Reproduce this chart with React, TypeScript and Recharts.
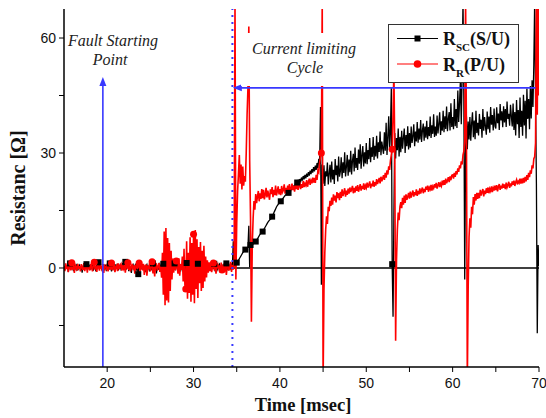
import React from "react";
import {
  LineChart,
  Line,
  XAxis,
  YAxis,
  ReferenceLine,
  ReferenceDot,
} from "recharts";

if (typeof document !== "undefined") document.body.style.margin = "0";

// sampling of the recorded traces (msec)
const tStart = 15;
const tStep = 0.1;

// R_SC (S/U), one row per msec
const rscOhm = [
  0.3, -0.5, 0.8, -0.2, 0.6, -1.0, 0.4, 1.2, -0.3, 0.5,
  0.2, -0.8, 0.9, 0.1, -0.4, 1.1, -0.6, 0.3, 0.7, -0.2,
  0.5, -1.2, 0.4, 0.8, -0.3, 0.2, 1.0, -0.5, 0.6, -0.1,
  0.9, -0.4, 0.3, 1.3, -0.7, 0.5, 0.1, -0.9, 0.7, 0.4,
  1.5, -0.3, 0.8, 0.2, -0.6, 1.0, 0.4, -0.2, 0.9, -0.8,
  0.6, 0.1, -0.5, 1.2, 0.3, -0.9, 0.7, 0.2, -0.4, 1.0,
  -0.2, 0.5, 1.1, -0.6, 0.4, 0.8, -0.3, 0.2, 1.3, -0.5,
  0.7, 1.6, -0.4, 0.3, 1.2, -0.8, 0.5, 0.1, -1.3, 0.6,
  0.9, -0.2, 0.4, 1.1, -0.7, 0.3, -1.6, 0.5, 0.8, -0.3,
  0.2, 1.0, -0.5, 0.6, -1.1, 0.4, 0.9, -0.2, 0.3, -0.9,
  0.7, 0.1, -0.6, 1.2, -0.3, 0.5, 0.8, -1.4, 0.4, 0.2,
  -0.5, 0.9, 0.3, -0.8, 0.6, 1.1, -0.2, 0.4, -0.7, 0.8,
  0.1, -0.4, 1.0, 0.5, -1.0, 0.3, 0.7, -0.3, 1.2, -0.6,
  0.4, 0.9, -0.5, 0.2, 1.1, -0.9, 0.6, 0.3, -0.2, 0.8,
  -0.7, 0.5, 1.3, -0.4, 0.2, 0.9, -1.2, 0.6, 0.1, -0.3,
  1.0, -0.6, 0.4, 0.8, -0.2, 1.1, -0.8, 0.3, 0.7, -0.4,
  0.5, 1.2, -0.3, 0.6, -1.0, 0.4, 0.9, -0.5, 0.2, 1.0,
  -0.6, 0.3, 0.8, -0.2, 1.1, -0.9, 0.5, 0.2, -0.4, 0.7,
  1.0, -0.5, 0.3, 0.9, -1.1, 0.6, 0.2, -0.3, 1.2, 0.4,
  -0.6, 0.8, 0.3, -0.2, 0.9, 0.5, 7.0, 0.8, 1.0, 1.2,
  1.4, 1.7, 2.0, 2.4, 2.8, 3.2, 3.6, 4.0, 4.3, 4.6,
  4.8, 5.0, 5.2, 5.4, 11.0, 0.2, 6.0, 6.1, 6.2, 6.3,
  6.4, 6.6, 6.9, 7.2, 7.6, 8.0, 8.4, 8.8, 9.1, 9.3,
  9.5, 9.9, 10.3, 10.7, 11.1, 11.5, 11.9, 12.2, 12.5, 12.7,
  12.9, 13.4, 13.9, 14.4, 14.9, 15.4, 15.9, 16.3, 16.6, 16.9,
  17.1, 17.4, 17.7, 18.0, 18.3, 18.6, 18.9, 19.1, 19.3, 19.5,
  19.6, 19.9, 20.2, 20.5, 20.8, 21.1, 21.4, 21.1, 22.0, 21.6,
  22.3, 22.8, 21.9, 23.2, 22.5, 23.6, 22.8, 24.0, 23.1, 24.3,
  23.4, 24.6, 23.8, 25.0, 24.1, 25.4, 24.5, 25.8, 24.9, 26.3,
  25.2, 26.7, 25.6, 27.4, 26.0, 28.5, 27.2, 42.0, -4.4, 27.0,
  22.0, 26.8, 21.4, 25.2, 23.9, 27.5, 21.8, 24.6, 26.9, 22.3,
  27.8, 23.1, 25.6, 21.9, 28.4, 24.2, 26.7, 22.6, 29.1, 23.8,
  25.2, 28.9, 23.4, 27.6, 24.8, 30.2, 23.9, 26.4, 29.5, 24.1,
  28.3, 25.0, 30.6, 24.4, 27.9, 29.8, 25.2, 31.4, 26.1, 28.7,
  25.6, 30.9, 27.2, 32.3, 25.9, 29.4, 31.8, 26.5, 30.2, 27.3,
  32.6, 27.1, 30.8, 28.4, 33.9, 27.6, 31.5, 29.0, 34.2, 28.2,
  31.9, 29.1, 34.5, 28.6, 32.8, 30.3, 35.6, 29.4, 33.0, 31.2,
  29.8, 35.4, 30.6, 37.9, 29.5, 34.2, 39.6, 30.8, 36.3, 47.0,
  1.0, -12.7, 14.0, 35.2, 28.6, 33.9, 30.7, 36.4, 29.1, 34.2,
  30.2, 35.8, 31.1, 33.9, 36.4, 30.0, 34.7, 31.8, 37.0, 30.9,
  35.2, 31.4, 36.9, 32.6, 34.3, 37.5, 31.8, 35.6, 33.0, 38.1,
  32.7, 36.4, 33.5, 38.6, 32.9, 35.8, 37.7, 33.2, 36.9, 34.0,
  38.4, 33.6, 36.8, 34.4, 39.5, 33.9, 37.2, 35.0, 40.1, 34.2,
  36.9, 34.5, 39.8, 35.1, 37.6, 40.6, 34.7, 38.3, 35.8, 41.0,
  35.4, 39.6, 36.3, 42.1, 35.7, 38.9, 40.7, 35.9, 43.0, 36.8,
  39.4, 36.2, 44.1, 37.0, 41.5, 36.5, 46.3, 38.1, 43.2, 49.0,
  37.5, 50.5, 70.0, 44.0, -3.0, 30.0, 39.5, 31.0, 38.2, 33.5,
  39.4, 33.2, 37.8, 40.6, 34.1, 38.5, 33.6, 41.0, 35.2, 37.9,
  34.6, 40.2, 36.3, 38.7, 34.0, 41.5, 35.8, 39.4, 36.9, 34.8,
  40.8, 36.2, 39.5, 35.3, 42.0, 37.4, 39.9, 35.9, 41.6, 37.0,
  36.4, 41.9, 37.8, 40.3, 36.0, 42.8, 38.5, 40.9, 36.7, 42.2,
  38.0, 41.5, 36.8, 43.4, 38.9, 40.2, 37.1, 42.6, 39.6, 36.9,
  42.9, 36.0, 40.7, 34.6, 43.8, 37.5, 41.2, 33.9, 44.5, 36.8,
  41.0, 34.5, 45.2, 37.2, 43.6, 33.8, 46.8, 38.9, 44.1, 36.2,
  47.5, 39.0, 49.0, 42.0, 53.0, 70.0, 44.0, 22.0, -17.0, 6.0,
  0.5,
];

// R_R (P/U), one row per msec
const rrOhm = [
  0.5, -0.8, 1.2, -0.3, 0.7, -1.1, 0.9, 0.2, -0.6, 1.4,
  -0.4, 0.6, -1.3, 0.8, 0.3, -0.7, 1.1, -0.2, 0.5, -0.9,
  1.0, 0.2, -0.5, 1.3, -0.8, 0.4, 0.9, -1.2, 0.6, 0.1,
  -0.6, 1.1, 0.3, -0.9, 0.7, 1.5, -0.4, 0.2, -1.0, 0.8,
  0.4, -0.7, 1.2, 0.1, -0.5, 0.9, -1.3, 0.6, 0.3, -0.2,
  1.1, -0.9, 0.5, 0.8, -0.4, 1.3, -0.6, 0.2, 0.9, -1.1,
  0.3, 0.7, -0.8, 1.2, -0.3, 0.5, 1.0, -0.7, 0.4, -0.2,
  0.9, -1.2, 0.6, 0.2, 1.4, -0.5, 0.8, -0.9, 0.3, 1.1,
  -0.4, 0.7, -1.5, 0.5, 1.0, -0.3, 0.6, 1.3, -0.8, 0.2,
  0.8, -0.6, 1.1, -1.8, 0.4, 0.9, -2.0, 0.6, -0.3, 1.2,
  -0.9, 0.5, 1.6, -1.4, 0.3, -2.2, 0.8, 1.0, -0.7, 0.4,
  1.3, -1.0, 0.6, -2.5, 4.0, -7.0, 9.5, -9.7, 10.4, -8.5,
  7.8, -9.0, 6.5, -6.0, 4.5, -3.0, 2.5, -1.2, 1.8, -0.6,
  1.8, 0.5, -1.5, 2.5, -2.0, 1.0, -0.5, 3.0, -3.5, 5.0,
  -4.5, -5.5, 7.0, -8.0, 4.0, -6.5, 8.0, -8.8, 6.5, -7.0,
  8.8, -9.2, 9.9, -5.5, 7.5, -7.8, 5.5, -4.0, 6.8, -6.0,
  4.5, -5.2, 5.8, -3.5, 3.0, -2.5, 2.0, -1.2, 1.5, -0.8,
  0.9, -1.1, 0.4, 1.3, -0.6, 0.8, -1.5, 0.5, 1.0, -0.3,
  0.7, -1.2, 1.4, -0.5, 0.3, 1.1, -0.9, 0.6, -1.8, 0.4,
  1.2, -0.7, 0.5, 1.6, -1.0, 0.8, -0.4, 0.3, 70.0, -3.0,
  11.7, 20.0, 24.5, 29.5, 22.0, 27.0, 20.5, 26.5, 21.5, 24.0,
  22.5, 30.0, 40.0, 47.0, 63.0, 28.0, 12.6, -14.0, 6.0, 13.0,
  17.5, 15.2, 19.3, 16.9, 18.6, 20.1, 17.4, 19.5, 18.0, 20.6,
  18.2, 20.4, 17.9, 19.1, 20.9, 18.4, 20.2, 19.0, 17.8, 20.5,
  19.3, 21.1, 18.5, 20.4, 19.0, 21.5, 18.9, 20.0, 21.3, 19.2,
  20.6, 19.0, 21.4, 19.8, 20.3, 21.8, 19.4, 20.9, 19.6, 21.5,
  20.0, 21.9, 19.8, 20.7, 22.0, 20.3, 21.4, 19.9, 21.7, 20.6,
  22.2, 20.4, 21.3, 22.5, 20.6, 21.9, 20.9, 22.7, 21.1, 22.0,
  21.5, 22.9, 21.2, 22.4, 23.3, 21.7, 22.8, 22.1, 23.6, 22.3,
  23.5, 22.2, 24.3, 23.0, 25.5, 25.0, 27.5, 29.0, 30.0, 70.0,
  -30.0, -6.0, 4.0, 10.0, 13.5, 11.5, 16.0, 14.8, 17.5, 16.2,
  18.4, 16.5, 19.2, 17.6, 18.9, 17.1, 19.8, 18.2, 19.5, 17.7,
  19.9, 18.3, 20.5, 18.8, 19.6, 20.8, 18.6, 20.2, 19.1, 20.7,
  19.4, 21.0, 19.8, 20.5, 21.4, 19.5, 20.9, 19.7, 21.3, 20.1,
  21.6, 19.9, 20.8, 21.9, 20.2, 21.4, 20.6, 22.1, 20.4, 21.5,
  20.9, 22.3, 21.0, 21.7, 22.6, 20.8, 22.0, 21.3, 22.8, 21.2,
  22.4, 21.5, 23.2, 21.9, 22.7, 23.5, 22.1, 23.8, 22.6, 23.4,
  24.2, 23.0, 24.8, 23.6, 25.5, 24.4, 26.5, 25.6, 28.0, 29.5,
  31.0, 40.0, 52.0, 30.0, -19.0, 2.0, 10.0, 14.5, 12.5, 16.0,
  17.2, 15.6, 18.3, 16.5, 18.9, 17.0, 19.2, 17.8, 18.6, 19.6,
  18.1, 19.9, 18.4, 19.3, 20.2, 18.6, 19.8, 19.0, 20.5, 18.8,
  20.1, 19.2, 20.8, 19.4, 20.3, 21.0, 19.5, 20.6, 19.8, 21.2,
  20.4, 21.5, 19.9, 21.0, 20.5, 21.7, 20.2, 21.3, 20.8, 21.9,
  21.0, 22.2, 20.7, 21.6, 22.4, 21.1, 22.0, 21.4, 22.8, 21.6,
  22.9, 21.7, 23.3, 22.1, 22.8, 23.7, 22.4, 23.9, 22.9, 24.2,
  24.3, 23.3, 24.8, 23.8, 25.3, 24.4, 26.0, 25.1, 26.8, 26.0,
  27.8, 27.0, 29.5, 30.5, 33.0, 70.0, 35.0, -30.0, -5.0, 8.0,
  13.0, 10.5, 16.0, 14.0, 18.5, 16.5, 19.3, 17.6, 19.6, 18.0,
  19.6, 18.2, 20.4, 18.9, 19.8, 20.6, 18.7, 20.2, 19.3, 20.8,
  19.6, 21.0, 19.5, 20.7, 20.1, 21.3, 19.8, 20.9, 20.2, 21.5,
  20.3, 21.6, 20.0, 21.2, 21.9, 20.4, 21.5, 20.7, 22.0, 20.9,
  21.8, 20.6, 22.3, 21.0, 21.6, 22.5, 20.9, 22.1, 21.3, 22.6,
  21.7, 22.8, 21.4, 22.4, 23.0, 21.8, 22.6, 22.2, 23.3, 22.0,
  23.3, 22.1, 23.5, 22.3, 23.8, 22.6, 24.2, 23.0, 24.8, 23.7,
  25.5, 24.6, 26.8, 26.0, 28.5, 29.0, 32.6, 70.0, 40.0, 70.0,
  45.0,
];

// sample times that carry a symbol
const rscMarkers = [
  15.7, 17.6, 19.0, 20.3, 22.1, 23.6, 25.3, 26.5, 27.8, 29.2, 30.5, 32.4,
  33.8, 35.0, 36.0, 36.6, 37.2, 38.0, 39.1, 40.1, 41.0, 42.0, 53.0,
];
const rrMarkers = [
  15.9, 18.5, 20.5, 22.4, 23.7, 25.2, 28.0, 29.1, 30.0, 32.3, 33.3, 44.8,
  53.0,
];

const xTicks = [20, 25, 30, 35, 40, 45, 50, 55, 60, 65, 70];
const yTicks = [-15, 0, 15, 30, 45, 60];

const faultTime = 19.5;
const limitStart = 34.5;

const BLUE = "#3838ff";

const data = rscOhm.map((v, i) => ({
  t: +(tStart + i * tStep).toFixed(1),
  rsc: v,
  rr: rrOhm[i],
}));

const rscSet = new Set(rscMarkers.map((m) => m.toFixed(1)));
const rrSet = new Set(rrMarkers.map((m) => m.toFixed(1)));

const squareDot = (p: any) =>
  rscSet.has(p.payload.t.toFixed(1)) ? (
    <rect key={p.index} x={p.cx - 3} y={p.cy - 3} width={6} height={6} fill="#000" />
  ) : (
    <g key={p.index} />
  );

const circleDot = (p: any) =>
  rrSet.has(p.payload.t.toFixed(1)) ? (
    <circle key={p.index} cx={p.cx} cy={p.cy} r={3.5} fill="#ff0000" />
  ) : (
    <g key={p.index} />
  );

const upArrow = (p: any) => (
  <polygon points={`${p.cx},${p.cy} ${p.cx - 3.5},${p.cy + 9} ${p.cx + 3.5},${p.cy + 9}`} fill={BLUE} />
);
const leftArrow = (p: any) => (
  <polygon points={`${p.cx},${p.cy} ${p.cx + 9},${p.cy - 3.5} ${p.cx + 9},${p.cy + 3.5}`} fill={BLUE} />
);

const serif = "'Liberation Serif', 'Times New Roman', serif";
const tickStyle = { fill: "#111", fontSize: 14, fontFamily: "'Liberation Sans', Arial, sans-serif" };

export default function App() {
  return (
    <div style={{ position: "relative", width: 546, height: 418, background: "#fff" }}>
      <LineChart width={546} height={418} data={data} margin={{ top: 9, right: 7, bottom: 21, left: 0 }}>
        <XAxis
          xAxisId="b"
          type="number"
          dataKey="t"
          domain={[15, 70]}
          allowDataOverflow
          ticks={xTicks}
          tickFormatter={(v: number) => (v % 10 === 0 ? String(v) : "")}
          stroke="#000"
          axisLine={{ strokeWidth: 1.5 }}
          tickSize={5}
          tickMargin={6}
          height={30}
          tick={tickStyle}
        />
        <XAxis
          xAxisId="t"
          orientation="top"
          type="number"
          dataKey="t"
          domain={[15, 70]}
          allowDataOverflow
          ticks={xTicks}
          tick={false}
          height={0}
          tickSize={3}
          stroke="#000"
          axisLine={{ strokeWidth: 1.5 }}
        />
        <YAxis
          yAxisId="l"
          type="number"
          domain={[-25.83, 67.57]}
          allowDataOverflow
          ticks={yTicks}
          tickFormatter={(v: number) => (v % 30 === 0 ? String(v) : "")}
          stroke="#000"
          axisLine={{ strokeWidth: 1.5 }}
          tickSize={5}
          tickMargin={3}
          width={64}
          tick={tickStyle}
        />
        <YAxis
          yAxisId="r"
          orientation="right"
          mirror
          type="number"
          domain={[-25.83, 67.57]}
          allowDataOverflow
          ticks={yTicks}
          tick={false}
          width={0}
          tickSize={4}
          stroke="#000"
          axisLine={{ strokeWidth: 1.5 }}
        />

        <ReferenceLine
          xAxisId="b"
          yAxisId="l"
          segment={[{ x: 34.6, y: 0 }, { x: 70, y: 0 }]}
          stroke="#000"
          strokeWidth={1.3}
        />

        <Line
          xAxisId="b"
          yAxisId="l"
          dataKey="rsc"
          type="linear"
          stroke="#000"
          strokeWidth={1.3}
          dot={squareDot}
          activeDot={false}
          isAnimationActive={false}
        />
        <Line
          xAxisId="b"
          yAxisId="l"
          dataKey="rr"
          type="linear"
          stroke="#ff0000"
          strokeWidth={1.6}
          dot={circleDot}
          activeDot={false}
          isAnimationActive={false}
        />

        <ReferenceLine
          xAxisId="b"
          yAxisId="l"
          x={limitStart}
          stroke={BLUE}
          strokeWidth={2}
          strokeDasharray="2 5"
        />
        <ReferenceLine
          xAxisId="b"
          yAxisId="l"
          segment={[{ x: faultTime, y: -25.83 }, { x: faultTime, y: 48 }]}
          stroke={BLUE}
          strokeWidth={1.6}
        />
        <ReferenceDot xAxisId="b" yAxisId="l" x={faultTime} y={49.8} shape={upArrow} />
        <ReferenceLine
          xAxisId="b"
          yAxisId="l"
          segment={[{ x: limitStart + 0.8, y: 47 }, { x: 69.6, y: 47 }]}
          stroke={BLUE}
          strokeWidth={1.8}
        />
        <ReferenceDot xAxisId="b" yAxisId="l" x={limitStart + 0.05} y={47} shape={leftArrow} />
      </LineChart>

      <svg
        width={546}
        height={418}
        style={{ position: "absolute", left: 0, top: 0, pointerEvents: "none" }}
      >
        <text
          transform="translate(25,188) rotate(-90)"
          textAnchor="middle"
          fontFamily={serif}
          fontWeight="bold"
          fontSize={20}
          fill="#111"
        >
          Resistanc [Ω]
        </text>
        <text x={303} y={411} textAnchor="middle" fontFamily={serif} fontWeight="bold" fontSize={18.5} fill="#111">
          Time [msec]
        </text>

        <text x={113} y={46} textAnchor="middle" fontFamily={serif} fontStyle="italic" fontSize={16} fill="#222">
          Fault Starting
        </text>
        <text x={110} y={65} textAnchor="middle" fontFamily={serif} fontStyle="italic" fontSize={16} fill="#222">
          Point
        </text>

        <rect x={241} y={33} width={130} height={53} fill="#fff" />
        <text x={304} y={54} textAnchor="middle" fontFamily={serif} fontStyle="italic" fontSize={16} fill="#222">
          Current limiting
        </text>
        <text x={305} y={73} textAnchor="middle" fontFamily={serif} fontStyle="italic" fontSize={16} fill="#222">
          Cycle
        </text>

        <rect x={388.5} y={24.5} width={130} height={58} fill="#fff" stroke="#333" strokeWidth={1} />
        <line x1={397} y1={38.5} x2={438} y2={38.5} stroke="#000" strokeWidth={1} />
        <rect x={414.5} y={35.5} width={6} height={6} fill="#000" />
        <text x={443} y={45} fontFamily={serif} fontWeight="bold" fontSize={18} fill="#111">
          R
          <tspan fontSize={11} dy={6}>SC</tspan>
          <tspan dy={-6}>(S/U)</tspan>
        </text>
        <line x1={397} y1={64} x2={438} y2={64} stroke="#ff0000" strokeWidth={1.2} />
        <circle cx={417.5} cy={64} r={3.8} fill="#ff0000" />
        <text x={443} y={71} fontFamily={serif} fontWeight="bold" fontSize={18} fill="#111">
          R
          <tspan fontSize={11} dy={6}>R</tspan>
          <tspan dy={-6}>(P/U)</tspan>
        </text>
      </svg>
    </div>
  );
}
